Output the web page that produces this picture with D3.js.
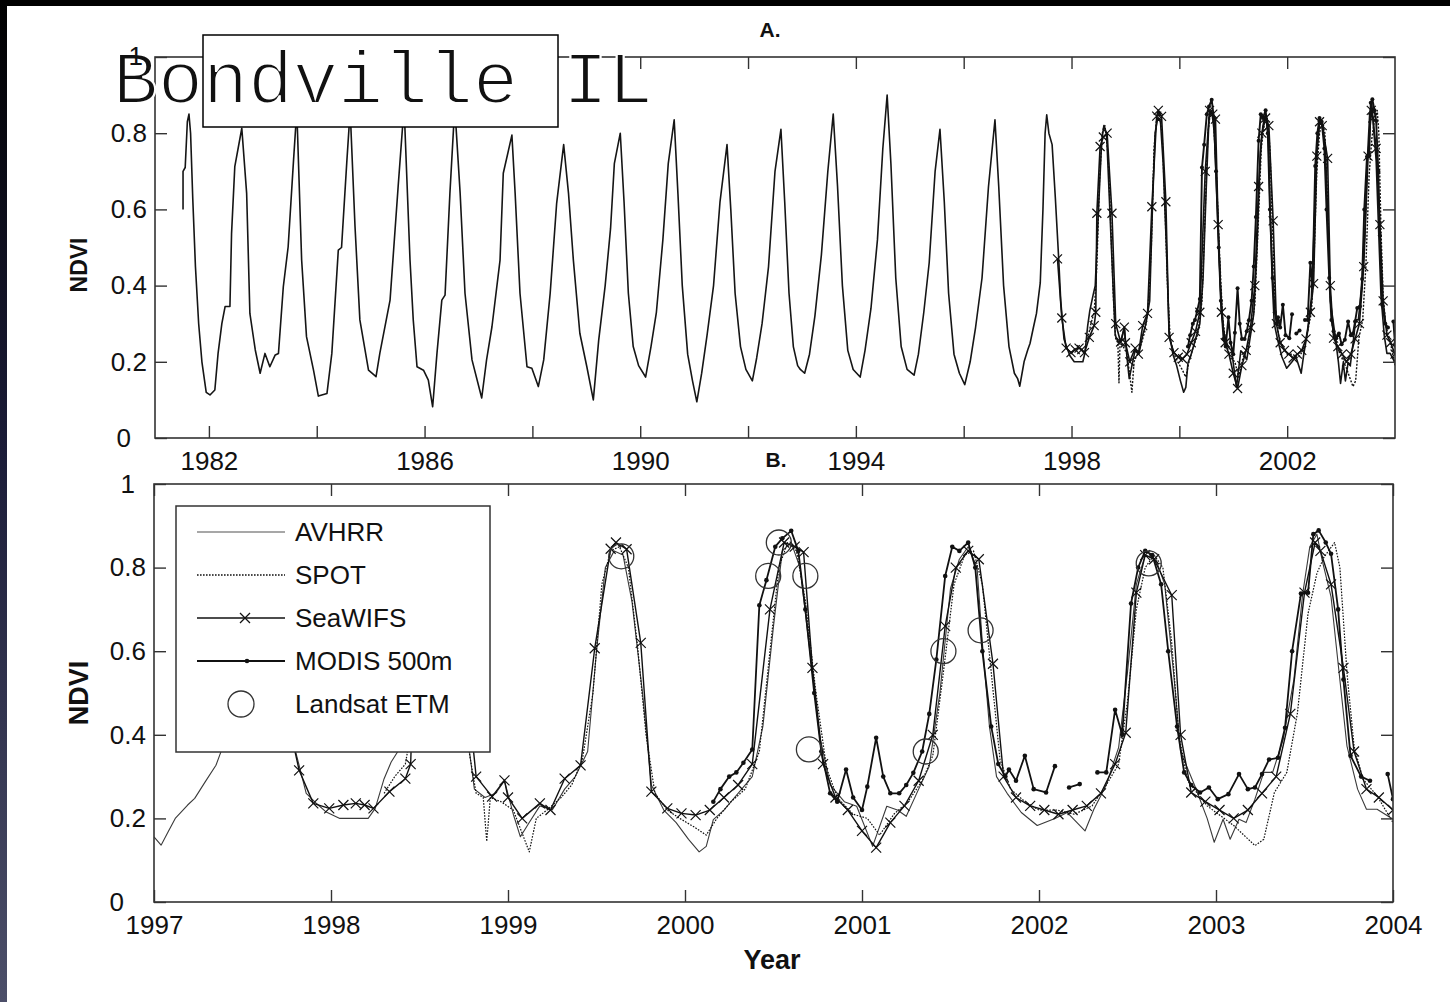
<!DOCTYPE html>
<html>
<head>
<meta charset="utf-8">
<script src="https://cdn.jsdelivr.net/npm/d3@7"></script>
<style>
  body { margin: 0; background: #fff; }
  svg text { font-family: "Liberation Sans", Arial, Helvetica, sans-serif; fill: #111; }
</style>
</head>
<body>
<div id="figure"></div>
<script>
// ---- data: [decimal year, NDVI] ----
const avhrrEarly = [
  [1981.52,0.60],[1981.52,0.70],[1981.56,0.71],[1981.60,0.83],[1981.63,0.85],[1981.66,0.80],[1981.70,0.63],[1981.75,0.45],[1981.81,0.30],[1981.87,0.20],[1981.95,0.12],
  [1982.02,0.113],[1982.11,0.126],[1982.17,0.222],[1982.24,0.30],[1982.30,0.345],[1982.39,0.345],[1982.42,0.537],[1982.48,0.712],[1982.61,0.813],[1982.70,0.642],[1982.76,0.327],[1982.86,0.231],[1982.95,0.17],
  [1983.04,0.222],[1983.13,0.187],[1983.23,0.218],[1983.29,0.222],[1983.38,0.397],[1983.47,0.502],[1983.57,0.73],[1983.63,0.86],[1983.72,0.467],[1983.81,0.266],[1983.94,0.178],
  [1984.03,0.11],[1984.19,0.117],[1984.28,0.222],[1984.40,0.493],[1984.46,0.50],[1984.56,0.73],[1984.62,0.86],[1984.71,0.555],[1984.80,0.31],[1984.96,0.178],
  [1985.10,0.161],[1985.17,0.222],[1985.36,0.362],[1985.51,0.66],[1985.62,0.87],[1985.73,0.467],[1985.79,0.31],[1985.86,0.187],[1985.98,0.178],
  [1986.07,0.152],[1986.15,0.082],[1986.23,0.222],[1986.32,0.362],[1986.38,0.375],[1986.47,0.642],[1986.56,0.87],[1986.66,0.642],[1986.75,0.38],[1986.88,0.205],
  [1987.06,0.105],[1987.15,0.205],[1987.25,0.292],[1987.40,0.467],[1987.46,0.695],[1987.62,0.795],[1987.68,0.642],[1987.77,0.38],[1987.90,0.187],[1987.99,0.183],
  [1988.11,0.135],[1988.21,0.205],[1988.33,0.38],[1988.45,0.616],[1988.58,0.77],[1988.67,0.642],[1988.76,0.467],[1988.88,0.275],[1989.01,0.187],
  [1989.13,0.10],[1989.23,0.257],[1989.35,0.40],[1989.45,0.55],[1989.52,0.72],[1989.63,0.80],[1989.70,0.62],[1989.78,0.38],[1989.87,0.24],[1989.97,0.19],
  [1990.10,0.16],[1990.20,0.24],[1990.30,0.33],[1990.42,0.52],[1990.52,0.72],[1990.63,0.835],[1990.70,0.64],[1990.78,0.40],[1990.88,0.22],[1990.97,0.15],
  [1991.05,0.095],[1991.14,0.17],[1991.24,0.27],[1991.36,0.40],[1991.48,0.62],[1991.61,0.77],[1991.68,0.60],[1991.76,0.38],[1991.86,0.24],[1991.96,0.18],
  [1992.08,0.15],[1992.16,0.21],[1992.26,0.30],[1992.38,0.45],[1992.50,0.70],[1992.61,0.81],[1992.68,0.62],[1992.76,0.38],[1992.84,0.24],[1992.92,0.19],
  [1992.97,0.18],[1993.05,0.17],[1993.14,0.22],[1993.24,0.32],[1993.36,0.48],[1993.48,0.70],[1993.58,0.85],[1993.66,0.66],[1993.75,0.40],[1993.85,0.23],[1993.95,0.18],
  [1994.08,0.16],[1994.17,0.23],[1994.28,0.34],[1994.40,0.52],[1994.50,0.76],[1994.58,0.90],[1994.65,0.72],[1994.74,0.42],[1994.84,0.24],[1994.95,0.18],
  [1995.08,0.165],[1995.16,0.22],[1995.26,0.33],[1995.36,0.46],[1995.47,0.70],[1995.56,0.81],[1995.64,0.62],[1995.72,0.38],[1995.82,0.22],[1995.92,0.17],
  [1996.02,0.14],[1996.12,0.20],[1996.22,0.29],[1996.34,0.42],[1996.46,0.66],[1996.58,0.835],[1996.65,0.66],[1996.74,0.40],[1996.84,0.24],[1996.94,0.17]
];

const avhrr = [
  [1997.00,0.156],[1997.04,0.136],[1997.08,0.168],[1997.12,0.20],[1997.19,0.232],[1997.23,0.248],[1997.29,0.288],[1997.35,0.327],[1997.42,0.407],
  [1997.47,0.60],[1997.51,0.80],[1997.54,0.848],[1997.58,0.80],[1997.64,0.77],[1997.70,0.63],[1997.76,0.476],[1997.80,0.36],[1997.86,0.26],[1997.92,0.235],[1997.97,0.216],
  [1998.05,0.20],[1998.13,0.20],[1998.21,0.20],[1998.25,0.224],[1998.30,0.295],[1998.34,0.335],[1998.40,0.375],[1998.44,0.40],[1998.50,0.60],[1998.56,0.78],[1998.60,0.82],
  [1998.65,0.80],[1998.71,0.60],[1998.77,0.40],[1998.81,0.27],[1998.87,0.25],[1998.93,0.26],[1998.98,0.29],
  [1999.03,0.21],[1999.07,0.156],[1999.12,0.19],[1999.18,0.23],[1999.25,0.22],[1999.32,0.27],[1999.38,0.30],[1999.45,0.36],[1999.50,0.60],[1999.55,0.80],[1999.60,0.84],
  [1999.65,0.83],[1999.70,0.72],[1999.76,0.50],[1999.81,0.28],[1999.88,0.22],[1999.95,0.19],
  [2000.02,0.15],[2000.08,0.12],[2000.12,0.133],[2000.16,0.197],[2000.22,0.22],[2000.30,0.26],[2000.38,0.30],[2000.44,0.42],[2000.50,0.66],[2000.55,0.84],[2000.60,0.86],
  [2000.65,0.80],[2000.70,0.62],[2000.76,0.40],[2000.82,0.28],[2000.90,0.24],[2000.97,0.229],
  [2001.06,0.133],[2001.14,0.229],[2001.20,0.22],[2001.25,0.205],[2001.32,0.27],[2001.38,0.325],[2001.44,0.50],[2001.50,0.75],[2001.55,0.82],[2001.60,0.85],[2001.65,0.80],
  [2001.68,0.62],[2001.72,0.42],[2001.76,0.30],[2001.82,0.26],[2001.90,0.214],[2001.99,0.183],
  [2002.09,0.20],[2002.16,0.214],[2002.26,0.17],[2002.31,0.222],[2002.38,0.28],[2002.45,0.37],[2002.50,0.55],[2002.55,0.76],[2002.60,0.83],[2002.66,0.82],[2002.71,0.76],
  [2002.76,0.55],[2002.80,0.36],[2002.88,0.278],[2002.95,0.20],[2002.99,0.143],
  [2003.04,0.198],[2003.08,0.15],[2003.13,0.198],[2003.17,0.19],[2003.22,0.246],[2003.27,0.31],[2003.32,0.31],[2003.38,0.39],[2003.44,0.532],[2003.49,0.738],[2003.53,0.85],
  [2003.57,0.88],[2003.60,0.817],[2003.65,0.73],[2003.68,0.61],[2003.74,0.373],[2003.80,0.27],[2003.85,0.222],[2003.91,0.222],[2004.00,0.198]
];

const spot = [
  [1998.30,0.26],[1998.36,0.30],[1998.42,0.33],[1998.47,0.45],[1998.52,0.68],[1998.57,0.80],[1998.62,0.82],[1998.68,0.74],[1998.73,0.55],[1998.78,0.36],[1998.82,0.26],
  [1998.86,0.25],[1998.88,0.145],[1998.90,0.25],[1998.96,0.24],[1999.03,0.22],[1999.12,0.12],[1999.16,0.20],[1999.22,0.22],[1999.30,0.25],[1999.36,0.28],[1999.42,0.34],
  [1999.48,0.50],[1999.53,0.76],[1999.58,0.84],[1999.63,0.85],[1999.68,0.80],[1999.73,0.62],[1999.78,0.40],[1999.83,0.26],[1999.90,0.22],[1999.97,0.20],
  [2000.05,0.18],[2000.12,0.16],[2000.18,0.20],[2000.26,0.24],[2000.34,0.27],[2000.42,0.36],[2000.48,0.60],[2000.53,0.80],[2000.58,0.86],[2000.63,0.84],[2000.68,0.72],
  [2000.74,0.50],[2000.80,0.32],[2000.86,0.25],[2000.95,0.21],[2001.03,0.20],[2001.10,0.16],[2001.18,0.21],[2001.26,0.24],[2001.34,0.29],[2001.40,0.35],[2001.46,0.55],
  [2001.52,0.76],[2001.58,0.83],[2001.63,0.84],[2001.68,0.76],[2001.73,0.55],[2001.78,0.34],[2001.84,0.27],[2001.92,0.24],[2002.00,0.22],[2002.10,0.22],[2002.20,0.21],
  [2002.30,0.23],[2002.38,0.28],[2002.45,0.33],[2002.50,0.48],[2002.55,0.70],[2002.60,0.80],[2002.65,0.83],[2002.70,0.80],[2002.75,0.62],[2002.79,0.40],[2002.84,0.29],
  [2002.95,0.23],[2003.10,0.183],[2003.22,0.135],[2003.27,0.15],[2003.33,0.262],[2003.40,0.31],[2003.46,0.452],[2003.52,0.69],[2003.57,0.786],[2003.61,0.825],
  [2003.67,0.86],[2003.70,0.80],[2003.74,0.548],[2003.78,0.373],[2003.83,0.294],[2003.91,0.254],[2004.00,0.19]
];

const seawifs = [
  [1997.74,0.47],[1997.82,0.315],[1997.90,0.236],[1997.99,0.224],[1998.07,0.232],[1998.14,0.236],[1998.19,0.232],[1998.24,0.224],[1998.33,0.264],[1998.42,0.295],
  [1998.45,0.33],[1998.47,0.59],[1998.53,0.765],[1998.59,0.79],[1998.66,0.80],[1998.75,0.59],[1998.82,0.30],[1998.91,0.252],[1998.98,0.291],[1999.00,0.25],
  [1999.08,0.20],[1999.18,0.236],[1999.24,0.22],[1999.32,0.295],[1999.41,0.327],[1999.49,0.607],[1999.58,0.845],[1999.61,0.86],[1999.67,0.844],[1999.75,0.62],
  [1999.81,0.264],[1999.90,0.224],[1999.98,0.212],[2000.06,0.208],[2000.14,0.22],[2000.22,0.25],[2000.30,0.28],[2000.38,0.33],[2000.48,0.70],[2000.56,0.86],
  [2000.62,0.85],[2000.67,0.837],[2000.72,0.56],[2000.78,0.33],[2000.85,0.25],[2000.92,0.22],[2001.00,0.17],[2001.08,0.13],[2001.16,0.19],[2001.24,0.23],
  [2001.32,0.29],[2001.40,0.40],[2001.47,0.66],[2001.53,0.80],[2001.60,0.84],[2001.66,0.82],[2001.74,0.57],[2001.80,0.30],[2001.87,0.25],[2001.95,0.23],
  [2002.03,0.22],[2002.11,0.21],[2002.19,0.22],[2002.27,0.23],[2002.35,0.26],[2002.43,0.33],[2002.49,0.405],[2002.55,0.74],[2002.60,0.83],[2002.65,0.82],
  [2002.75,0.734],[2002.80,0.40],[2002.86,0.262],[2002.94,0.24],[2003.02,0.22],[2003.10,0.20],[2003.18,0.22],[2003.26,0.26],[2003.34,0.30],[2003.42,0.45],
  [2003.50,0.74],[2003.56,0.86],[2003.59,0.84],[2003.65,0.76],[2003.72,0.56],[2003.78,0.36],[2003.85,0.27],[2003.92,0.25],[2004.00,0.22]
];

const modis = [
  [2000.16,0.24],[2000.20,0.27],[2000.25,0.30],[2000.29,0.31],[2000.33,0.333],[2000.38,0.365],[2000.42,0.71],[2000.46,0.77],[2000.51,0.85],[2000.55,0.87],
  [2000.60,0.888],[2000.64,0.84],[2000.68,0.70],[2000.73,0.50],[2000.77,0.36],[2000.82,0.26],[2000.86,0.24],[2000.91,0.317],[2000.95,0.25],[2001.00,0.22],
  [2001.03,0.276],[2001.08,0.393],[2001.12,0.30],[2001.16,0.26],[2001.21,0.26],[2001.25,0.28],[2001.29,0.309],[2001.34,0.36],[2001.38,0.45],[2001.42,0.58],
  [2001.47,0.78],[2001.51,0.85],[2001.55,0.84],[2001.60,0.86],[2001.64,0.80],[2001.68,0.60],[2001.73,0.42],[2001.77,0.33],[2001.81,0.30],[2001.83,0.317],
  [2001.87,0.29],[2001.92,0.35],[2001.97,0.27],[2002.04,0.262],[2002.09,0.325],[2002.12,null],[2002.17,0.274],[2002.23,0.282],[2002.28,null],
  [2002.33,0.31],[2002.38,0.31],[2002.43,0.46],[2002.47,0.40],[2002.52,0.714],[2002.56,0.80],[2002.60,0.84],[2002.64,0.83],[2002.69,0.76],[2002.73,0.60],
  [2002.78,0.42],[2002.82,0.31],[2002.86,0.28],[2002.91,0.262],[2002.96,0.274],[2003.01,0.246],[2003.07,0.258],[2003.13,0.306],[2003.18,0.27],[2003.22,0.274],
  [2003.26,0.306],[2003.30,0.341],[2003.35,0.345],[2003.39,0.417],[2003.43,0.60],[2003.48,0.738],[2003.52,0.74],[2003.55,0.88],[2003.58,0.889],[2003.62,0.86],
  [2003.65,0.833],[2003.69,0.70],[2003.72,0.532],[2003.76,0.35],[2003.82,0.30],[2003.87,0.29],[2003.92,null],[2003.97,0.306],[2004.00,0.246]
];

const landsat = [
  [1999.64,0.827],[2000.47,0.78],[2000.53,0.86],[2000.68,0.78],[2000.70,0.365],
  [2001.36,0.36],[2001.46,0.60],[2001.67,0.65],[2002.62,0.81]
];

const yTicks = [0, 0.2, 0.4, 0.6, 0.8, 1];
const yearTicksA = [1982, 1984, 1986, 1988, 1990, 1992, 1994, 1996, 1998, 2000, 2002];
const yearLabelsA = [1982, 1986, 1990, 1994, 1998, 2002];
const yearTicksB = [1997, 1998, 1999, 2000, 2001, 2002, 2003, 2004];
const legendLabels = ["AVHRR", "SPOT", "SeaWIFS", "MODIS 500m", "Landsat ETM"];

// ---- layout ----
const W = 1450, H = 1002;
const panelA = { left: 155, right: 1395, top: 57, bottom: 438, domain: [1981, 2004] };
const panelB = { left: 154, right: 1393, top: 484, bottom: 902, domain: [1997, 2004] };

const svg = d3.select('#figure').append('svg')
  .attr('width', W).attr('height', H);

// scanned-page frame
const defs = svg.append('defs');
const grad = defs.append('linearGradient').attr('id', 'edge')
  .attr('x1', 0).attr('y1', 0).attr('x2', 0).attr('y2', 1);
grad.append('stop').attr('offset', '0%').attr('stop-color', '#000');
grad.append('stop').attr('offset', '45%').attr('stop-color', '#1b1c38');
grad.append('stop').attr('offset', '100%').attr('stop-color', '#4c4f69');
svg.append('rect').attr('width', W).attr('height', H).attr('fill', '#fff');
svg.append('rect').attr('x', 0).attr('y', 0).attr('width', W).attr('height', 6).attr('fill', '#000');
svg.append('rect').attr('x', 0).attr('y', 0).attr('width', 7).attr('height', H).attr('fill', 'url(#edge)');

function makeScales(p) {
  const x = d3.scaleLinear().domain(p.domain).range([p.left, p.right]);
  const y = d3.scaleLinear().domain([0, 1]).range([p.bottom, p.top]);
  return { x, y };
}

function drawAxes(p, s, xticks, xlabel, ylab) {
  const g = svg.append('g');
  const style = sel => {
    sel.select('.domain').remove();
    sel.selectAll('line').attr('stroke', '#333').attr('stroke-width', 1.4);
    sel.selectAll('text').attr('font-size', 26).attr('fill', '#111');
  };
  g.append('g').attr('transform', `translate(0,${p.bottom})`)
    .call(d3.axisBottom(s.x).tickValues(xticks).tickSize(-12).tickPadding(14).tickFormat(xlabel))
    .call(style);
  g.append('g').attr('transform', `translate(0,${p.top})`)
    .call(d3.axisTop(s.x).tickValues(xticks).tickSize(-12).tickFormat(''))
    .call(style);
  const left = g.append('g').attr('transform', `translate(${p.left},0)`)
    .call(d3.axisLeft(s.y).tickValues(yTicks).tickSize(-12).tickPadding(8)
      .tickFormat(d => d === 0 || d === 1 ? String(d) : d.toFixed(1)))
    .call(style);
  left.selectAll('.tick text').attr('x', d => d === 0 ? ylab.zeroX : d === 1 ? ylab.oneX : -8);
  g.append('g').attr('transform', `translate(${p.right},0)`)
    .call(d3.axisRight(s.y).tickValues(yTicks).tickSize(-12).tickFormat(''))
    .call(style);
  // frame
  g.append('rect')
    .attr('x', p.left).attr('y', p.top)
    .attr('width', p.right - p.left).attr('height', p.bottom - p.top)
    .attr('fill', 'none').attr('stroke', '#333').attr('stroke-width', 1.6);
  return g;
}

function clipFor(id, p) {
  defs.append('clipPath').attr('id', id).append('rect')
    .attr('x', p.left).attr('y', p.top - 20)
    .attr('width', p.right - p.left).attr('height', p.bottom - p.top + 20);
  return `url(#${id})`;
}

function drawSeries(g, s, opts) {
  const line = d3.line()
    .defined(d => d[1] != null)
    .x(d => s.x(d[0])).y(d => s.y(d[1]));
  g.append('path').datum(opts.data)
    .attr('d', line)
    .attr('fill', 'none')
    .attr('stroke', opts.color || '#111')
    .attr('stroke-width', opts.width || 1.2)
    .attr('stroke-dasharray', opts.dash || null)
    .attr('stroke-linejoin', 'round');
  const pts = opts.data.filter(d => d[1] != null);
  if (opts.marker === 'x') {
    const m = opts.msize;
    g.selectAll(null).data(pts).enter().append('path')
      .attr('d', d => {
        const cx = s.x(d[0]), cy = s.y(d[1]);
        return `M${cx - m},${cy - m}L${cx + m},${cy + m}M${cx - m},${cy + m}L${cx + m},${cy - m}`;
      })
      .attr('stroke', '#111').attr('stroke-width', 1.2);
  } else if (opts.marker === 'dot') {
    g.selectAll(null).data(pts).enter().append('circle')
      .attr('cx', d => s.x(d[0])).attr('cy', d => s.y(d[1]))
      .attr('r', opts.msize).attr('fill', '#111');
  }
}

// ---- panel A ----
const sA = makeScales(panelA);
const dataA = svg.append('g').attr('clip-path', clipFor('clipA', panelA));
drawSeries(dataA, sA, { data: avhrrEarly.concat(avhrr), width: 1.6, color: '#151515' });
drawSeries(dataA, sA, { data: spot, width: 1.4, dash: '2,1.5' });
drawSeries(dataA, sA, { data: seawifs, width: 1.6, marker: 'x', msize: 4.5 });
drawSeries(dataA, sA, { data: modis, width: 1.9, marker: 'dot', msize: 2 });
const axesA = drawAxes(panelA, sA, yearTicksA, d => yearLabelsA.includes(d) ? d : '', { zeroX: -24, oneX: -12 });

svg.append('text').text('A.')
  .attr('x', 770).attr('y', 37).attr('text-anchor', 'middle')
  .attr('font-size', 21).attr('font-weight', 'bold');
svg.append('text').text('NDVI')
  .attr('transform', 'translate(87,265) rotate(-90)')
  .attr('text-anchor', 'middle').attr('font-size', 23).attr('font-weight', 'bold');

// ---- panel B ----
const sB = makeScales(panelB);
const dataB = svg.append('g').attr('clip-path', clipFor('clipB', panelB));
drawSeries(dataB, sB, { data: avhrr, width: 1.1, color: '#3a3a3a' });
drawSeries(dataB, sB, { data: spot, width: 1.2, dash: '1.6,1.4' });
drawSeries(dataB, sB, { data: seawifs, width: 1.4, marker: 'x', msize: 5 });
drawSeries(dataB, sB, { data: modis, width: 1.8, marker: 'dot', msize: 2.3 });
dataB.selectAll('circle.landsat').data(landsat).enter().append('circle')
  .attr('class', 'landsat')
  .attr('cx', d => sB.x(d[0])).attr('cy', d => sB.y(d[1]))
  .attr('r', 12.5).attr('fill', 'none').attr('stroke', '#333').attr('stroke-width', 1.3);
drawAxes(panelB, sB, yearTicksB, d => d, { zeroX: -30, oneX: -19 });

svg.append('text').text('B.')
  .attr('x', 776).attr('y', 467).attr('text-anchor', 'middle')
  .attr('font-size', 21).attr('font-weight', 'bold');
svg.append('text').text('NDVI')
  .attr('transform', `translate(88,${(panelB.top + panelB.bottom) / 2}) rotate(-90)`)
  .attr('text-anchor', 'middle').attr('font-size', 27).attr('font-weight', 'bold');
svg.append('text').text('Year')
  .attr('x', 772).attr('y', 969).attr('text-anchor', 'middle')
  .attr('font-size', 27).attr('font-weight', 'bold');

// legend
const lg = svg.append('g');
lg.append('rect').attr('x', 176).attr('y', 506).attr('width', 314).attr('height', 246)
  .attr('fill', '#fff').attr('stroke', '#333').attr('stroke-width', 1.5);
const rowY = i => 532 + i * 43;
legendLabels.forEach((label, i) => {
  const y = rowY(i);
  if (i < 4) {
    lg.append('line').attr('x1', 197).attr('x2', 285).attr('y1', y).attr('y2', y)
      .attr('stroke', i === 0 ? '#8a8a8a' : '#111')
      .attr('stroke-width', i === 3 ? 1.8 : 1.3)
      .attr('stroke-dasharray', i === 1 ? '1.6,1.4' : null);
  }
  if (i === 2) {
    lg.append('path').attr('d', `M${240},${y - 5}L${250},${y + 5}M${240},${y + 5}L${250},${y - 5}`)
      .attr('stroke', '#111').attr('stroke-width', 1.3);
  }
  if (i === 3) {
    lg.append('circle').attr('cx', 247).attr('cy', y).attr('r', 2.3).attr('fill', '#111');
  }
  if (i === 4) {
    lg.append('circle').attr('cx', 241).attr('cy', y).attr('r', 13)
      .attr('fill', 'none').attr('stroke', '#333').attr('stroke-width', 1.3);
  }
  lg.append('text').text(label)
    .attr('x', 295).attr('y', y + 9).attr('font-size', 26).attr('fill', '#1a1a1a');
});

// site label pasted on top
svg.append('rect').attr('x', 203).attr('y', 35).attr('width', 355).attr('height', 92)
  .attr('fill', '#fff').attr('stroke', '#000').attr('stroke-width', 1.5);
svg.append('text').text('Bondville IL')
  .attr('x', 113).attr('y', 103)
  .style('font-family', '"Liberation Mono", "Courier New", monospace')
  .attr('font-size', 75).attr('fill', '#000')
  .attr('stroke', '#fff').attr('stroke-width', 2.2);

// the "1" tick label of panel A shows through the pasted title in the scan
axesA.selectAll('.tick text').filter(d => d === 1).each(function () {
  const t = d3.select(this);
  svg.append('text').text(t.text())
    .attr('x', panelA.left - 12).attr('y', sA.y(1)).attr('dy', '0.32em')
    .attr('text-anchor', 'end').attr('font-size', 26).attr('fill', '#111');
  t.remove();
});
</script>
</body>
</html>
